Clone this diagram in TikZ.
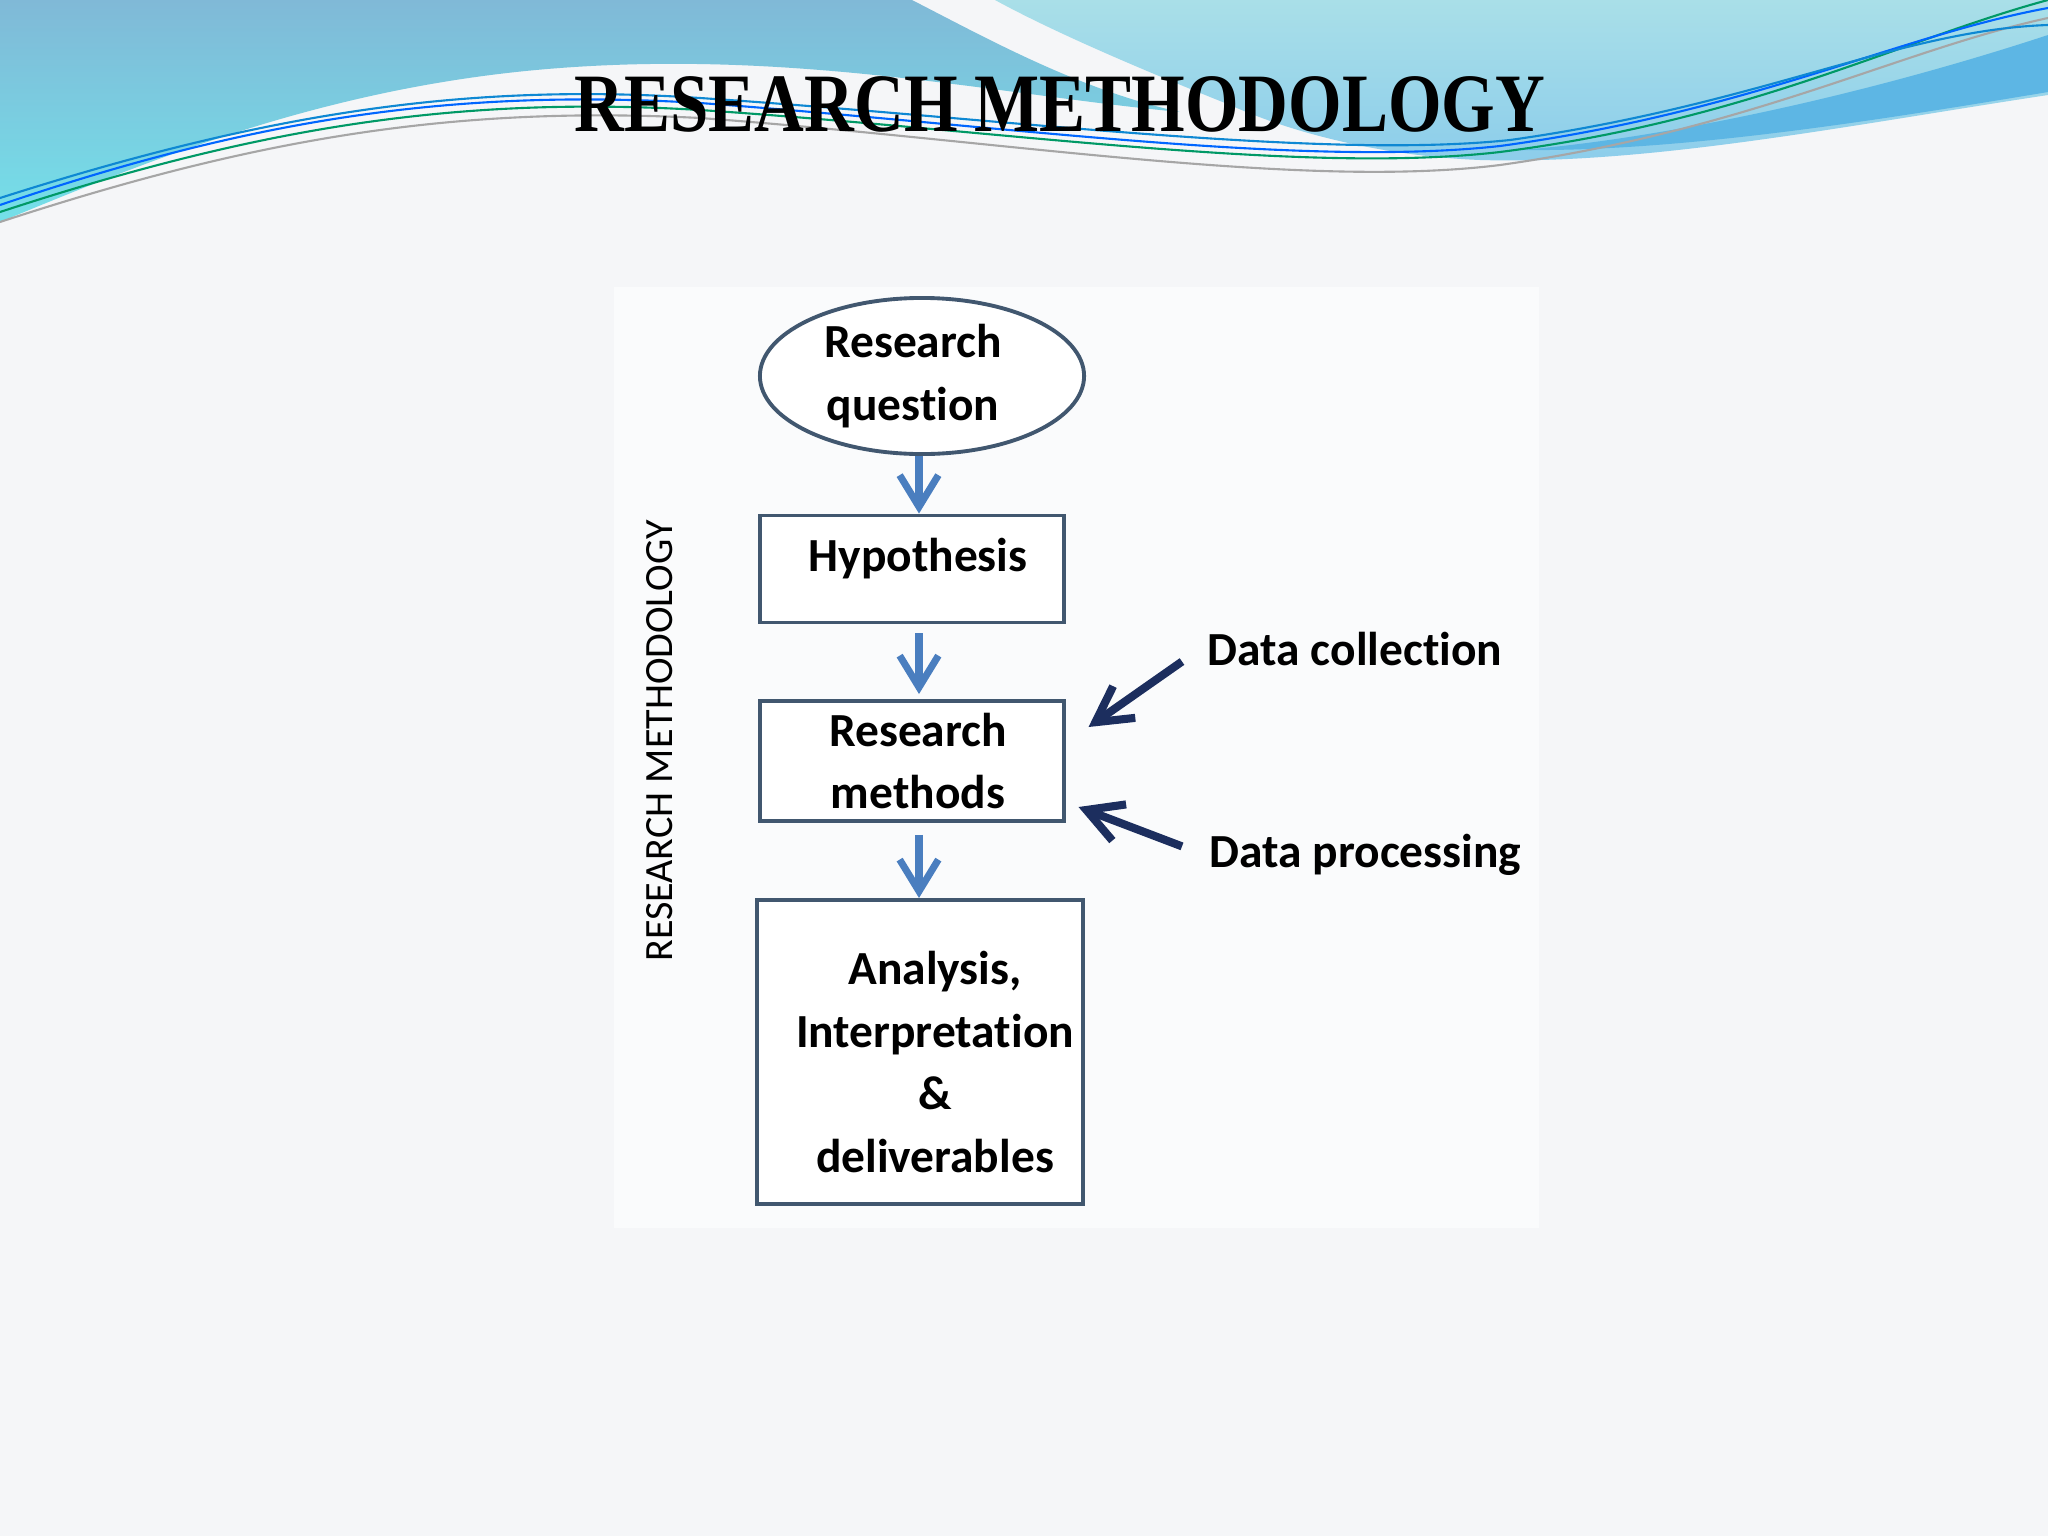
\documentclass[tikz,border=0pt]{standalone}
\usepackage{fontspec}
\usepackage{graphicx}
\setmainfont{Carlito}[RawFeature={-liga;-clig;-calt;-dlig}]
\newfontfamily\titlefont{Liberation Serif}
\usetikzlibrary{shapes.geometric,arrows.meta,positioning}
\definecolor{slidebg}{HTML}{F5F6F8}
\definecolor{waveblue}{HTML}{80B9D7}
\definecolor{wavecyan}{HTML}{74E0E9}
\definecolor{paleblue}{HTML}{A9DFE8}
\definecolor{palesky}{HTML}{8CCDEB}
\definecolor{skyband}{HTML}{5DB6E4}
\definecolor{boxline}{HTML}{41576F}
\definecolor{flowblue}{HTML}{4A7EBF}
\definecolor{sidenavy}{HTML}{1C2E5E}
\tikzset{
  stepbox/.style={draw=boxline,line width=1.1pt,fill=white,inner sep=0pt},
  boxtext/.style={font=\bfseries\fontsize{13.5}{17.8}\selectfont,align=center,inner sep=0pt},
  sidetext/.style={font=\bfseries\fontsize{13.5}{16}\selectfont,inner sep=0pt},
  flowarrow/.style={draw=flowblue,line width=2pt,-{Straight Barb[length=9pt,width=11pt]}},
  sidearrow/.style={draw=sidenavy,line width=2.3pt,-{Straight Barb[length=10pt,width=11pt]}},
  waveline/.style={line width=0.6pt}
}
\begin{document}
\begin{tikzpicture}[x=0.01cm,y=-0.01cm]
\useasboundingbox (0,0) rectangle (2048,1536);
% slide background
\fill[slidebg] (0,0) rectangle (2048,1536);
\fill[white!55!slidebg] (614,287) rectangle (1539,1228);
% top waves
\shade[top color=waveblue,bottom color=wavecyan]
  (0,0) -- (912,0) .. controls (990,40) and (1080,90) .. (1180,112)
  .. controls (1000,95) and (800,50) .. (560,68)
  .. controls (330,85) and (150,160) .. (0,222) -- cycle;
\shade[top color=paleblue,bottom color=palesky]
  (995,0) -- (2048,0) -- (2048,95) .. controls (1850,125) and (1650,165) .. (1480,160)
  .. controls (1380,156) and (1290,132) .. (1230,105)
  .. controls (1130,65) and (1050,30) .. (995,0) -- cycle;
\fill[skyband] (2048,35) .. controls (1850,100) and (1650,140) .. (1520,150)
  .. controls (1680,152) and (1880,120) .. (2048,92) -- cycle;
\draw[waveline,draw=teal!80!green] (0,212) .. controls (250,130) and (450,95) .. (700,110)
  .. controls (1000,130) and (1300,175) .. (1500,152) .. controls (1750,120) and (1900,40) .. (2048,0);
\draw[waveline,draw=blue!60!cyan] (0,205) .. controls (250,120) and (450,88) .. (700,103)
  .. controls (1000,125) and (1300,168) .. (1500,146) .. controls (1750,112) and (1900,35) .. (2048,8);
\draw[waveline,draw=gray!70] (0,222) .. controls (250,140) and (450,105) .. (700,118)
  .. controls (1000,140) and (1300,190) .. (1500,165) .. controls (1750,130) and (1900,50) .. (2048,18);
\draw[waveline,draw=cyan!70!blue] (0,198) .. controls (260,115) and (460,82) .. (700,98)
  .. controls (1000,118) and (1320,160) .. (1510,140) .. controls (1760,105) and (1900,30) .. (2048,25);
% title
\node[font=\titlefont\bfseries\fontsize{23.6}{28}\selectfont,inner sep=0pt] (title) at (1060,104)
  {\scalebox{0.83}[1]{RESEARCH METHODOLOGY}};
% flow chart
\node[stepbox,ellipse,minimum width=3.24cm,minimum height=1.56cm,
  label={[boxtext,xshift=-0.09cm]center:Research\\question}] (rq) at (922,376) {};
\node[stepbox,minimum width=3.03cm,minimum height=1.07cm,
  label={[boxtext,xshift=0.06cm,yshift=0.1cm]center:Hypothesis}] (hyp) at (912,569) {};
\node[stepbox,minimum width=3.03cm,minimum height=1.2cm,
  label={[boxtext,xshift=0.06cm]center:Research\\methods}] (rm) at (912,761) {};
\node[stepbox,minimum width=3.26cm,minimum height=3.04cm,
  label={[boxtext,xshift=0.15cm,yshift=-0.1cm]center:Analysis,\\Interpretation\\\&\\deliverables}] (ana) at (920,1052) {};
\node[rotate=90,font=\fontsize{11.4}{13}\selectfont,inner sep=0pt] (side) at (660,741) {RESEARCH METHODOLOGY};
\node[sidetext,anchor=base west] (dc) at (1207,665) {Data collection};
\node[sidetext,anchor=base west] (dp) at (1209,867) {Data processing};
\draw[flowarrow] ([xshift=-0.03cm]rq.south) -- ([xshift=-0.03cm]rq.south |- hyp.north);
\draw[flowarrow,shorten <=0.09cm,shorten >=0.05cm] ([xshift=0.07cm]hyp.south) -- ([xshift=0.07cm]rm.north);
\draw[flowarrow,shorten <=0.12cm] ([xshift=0.07cm]rm.south) -- ([xshift=0.07cm]rm.south |- ana.north);
\draw[sidearrow] ([shift={(-25,13)}]dc.west) -- ([shift={(23,-34)}]rm.east);
\draw[sidearrow] ([shift={(-27,-8)}]dp.west) -- ([shift={(13,46)}]rm.east);
\end{tikzpicture}
\end{document}
